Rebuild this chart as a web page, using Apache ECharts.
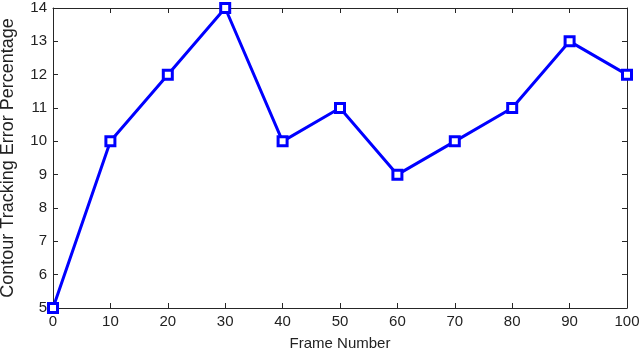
<!DOCTYPE html>
<html><head><meta charset="utf-8">
<script src="https://cdn.jsdelivr.net/npm/echarts@6/dist/echarts.min.js"></script>
<style>html,body{margin:0;padding:0;background:#fff}#c{width:640px;height:353px}</style>
</head><body><div id="c"></div>
<script>
const frames = [0, 10, 20, 30, 40, 50, 60, 70, 80, 90, 100];
const errorPct = [5, 10, 12, 14, 10, 11, 9, 10, 11, 13, 12];
const xTitle = 'Frame Number';
const yTitle = 'Contour Tracking Error Percentage';

const chart = echarts.init(document.getElementById('c'), null, {renderer: 'canvas'});
const font = 'Liberation Sans, Arial, Helvetica, sans-serif';
const axisCol = '#262626';
const lineStyle = {color: axisCol, width: 1};
const tick = {show: true, inside: true, length: 5, lineStyle: {color: axisCol, width: 1}};
chart.setOption({
  animation: false,
  grid: {left: 53, right: 13, top: 8, bottom: 45, containLabel: false, outerBoundsMode: 'none'},
  xAxis: [
    {type: 'value', min: 0, max: 100, interval: 10, position: 'bottom',
     name: xTitle, nameLocation: 'middle', nameGap: 28,
     nameTextStyle: {fontFamily: font, fontSize: 15, color: '#222'},
     axisLine: {show: true, onZero: false, lineStyle}, axisTick: tick,
     axisLabel: {fontFamily: font, fontSize: 15, color: '#222', margin: 6},
     splitLine: {show: false}},
    {type: 'value', min: 0, max: 100, interval: 10, position: 'top',
     axisLine: {show: true, onZero: false, lineStyle}, axisTick: tick,
     axisLabel: {show: false}, splitLine: {show: false}}
  ],
  yAxis: [
    {type: 'value', min: 5, max: 14, interval: 1, position: 'left',
     name: yTitle, nameLocation: 'middle', nameGap: 36, nameRotate: 90,
     nameTextStyle: {fontFamily: font, fontSize: 18, color: '#222'},
     axisLine: {show: true, onZero: false, lineStyle}, axisTick: tick,
     axisLabel: {fontFamily: font, fontSize: 15, color: '#222', margin: 6},
     splitLine: {show: false}},
    {type: 'value', min: 5, max: 14, interval: 1, position: 'right',
     axisLine: {show: true, onZero: false, lineStyle}, axisTick: tick,
     axisLabel: {show: false}, splitLine: {show: false}}
  ],
  series: [{
    type: 'line',
    data: frames.map((f, i) => [f, errorPct[i]]),
    symbol: 'rect', symbolSize: 9,
    lineStyle: {color: '#0000ff', width: 3},
    itemStyle: {color: '#ffffff', borderColor: '#0000ff', borderWidth: 3},
    clip: false
  }]
});
</script></body></html>
